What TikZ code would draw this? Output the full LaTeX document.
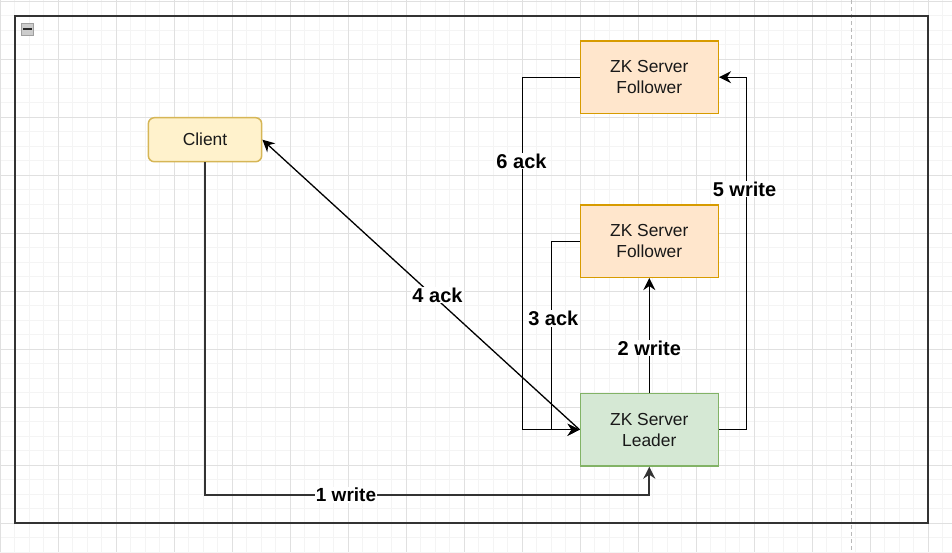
\documentclass[tikz,border=0pt]{standalone}
\usepackage{fontspec}
\setmainfont{Liberation Sans}
\usetikzlibrary{arrows.meta}
\definecolor{clientfill}{HTML}{FFF2CC}
\definecolor{clientdraw}{HTML}{D6B656}
\definecolor{follfill}{HTML}{FFE6CC}
\definecolor{folldraw}{HTML}{D79B00}
\definecolor{leadfill}{HTML}{D5E8D4}
\definecolor{leaddraw}{HTML}{82B366}
\definecolor{gridminor}{HTML}{F4F4F4}
\definecolor{gridmajor}{HTML}{E0E0E0}
\definecolor{framecol}{HTML}{333333}
\tikzset{
  boxbase/.style={draw, line width=1.5pt, font=\fontsize{17.4}{20.7}\selectfont, align=center, text=black!90, inner sep=0pt},
  clientbox/.style={boxbase, fill=clientfill, draw=clientdraw, rounded corners=6pt, minimum width=113.3pt, minimum height=44pt},
  follbox/.style={boxbase, fill=follfill, draw=folldraw, minimum width=138pt, minimum height=72.3pt},
  leadbox/.style={boxbase, fill=leadfill, draw=leaddraw, minimum width=138pt, minimum height=72.5pt},
  conn/.style={line width=1.3pt, draw=black, -{Stealth[length=12pt,width=12pt,inset=4pt]}},
  conngray/.style={conn, line width=2pt, draw=framecol},
  lbl/.style={fill=white, font=\bfseries\fontsize{20}{22}\selectfont, inner sep=1pt, text=black},
}
\begin{document}
\begin{tikzpicture}[x=1pt,y=-1pt]
\useasboundingbox (0,0) rectangle (952,552);
\fill[white] (0,0) rectangle (952,552);
% grid
\foreach \i in {0,...,65} {
  \draw[gridminor, line width=1pt] ({0.3+14.5*\i},0) -- ({0.3+14.5*\i},552);
}
\foreach \i in {0,...,38} {
  \draw[gridminor, line width=1pt] (0,{1.3+14.5*\i}) -- (952,{1.3+14.5*\i});
}
\foreach \i in {0,...,16} {
  \draw[gridmajor, line width=1pt] ({0.3+58*\i},0) -- ({0.3+58*\i},552);
}
\foreach \i in {0,...,9} {
  \draw[gridmajor, line width=1pt] (0,{1.3+58*\i}) -- (952,{1.3+58*\i});
}
% dashed page break
\draw[gray!55, line width=1pt, dash pattern=on 4pt off 3pt] (851.3,0) -- (851.3,552);
% frame
\draw[framecol, line width=2.2pt] (14.7,15.7) rectangle (928.3,523.3);
% collapse icon
\draw[gray!75, fill=gray!40, line width=0.9pt] (21.3,23.3) rectangle (33.7,35.3);
\draw[black!85, line width=1.8pt] (23.3,29.3) -- (31.7,29.3);
% nodes
\node[clientbox] (client) at (205,139.7) {Client};
\node[follbox] (f1) at (649.3,77.2) {ZK Server\\Follower};
\node[follbox] (f2) at (649.3,241.2) {ZK Server\\Follower};
\node[leadbox] (leader) at (649.3,429.7) {ZK Server\\Leader};
% bend coordinates
\coordinate (b1) at (205,494.7);
\coordinate (b1l) at (346,494.7);
\coordinate (b3a) at (551.5,241.2);
\coordinate (b3b) at (551.5,429.7);
\coordinate (b6a) at (522.3,77.2);
\coordinate (b6b) at (522.3,429.7);
\coordinate (b5a) at (746.7,429.7);
\coordinate (b5b) at (746.7,77.2);
% connectors
\draw[conngray] (client.south) -- (b1) -| (leader.south);
\node[lbl, font=\bfseries\fontsize{19}{21}\selectfont] (l1) at (b1l) {1 write};
\draw[conn] (leader.north) -- node[lbl, pos=0.39] (l2) {2 write} (f2.south);
\draw[conn] (f2.west) -- (b3a) -- (b3b) -- (leader.west);
\node[lbl] (l3) at (553.3,318.3) {3 ack};
\draw[conn] (f1.west) -- (b6a) -- (b6b) -- (leader.west);
\node[lbl] (l6) at (521.5,161) {6 ack};
\draw[conn] (leader.east) -- (b5a) -- (b5b) -- (f1.east);
\node[lbl] (l5) at (744.5,189) {5 write};
\draw[conn] (leader.west) -- (client.east);
\node[lbl] (l4) at (437.5,295) {4 ack};
\end{tikzpicture}
\end{document}
